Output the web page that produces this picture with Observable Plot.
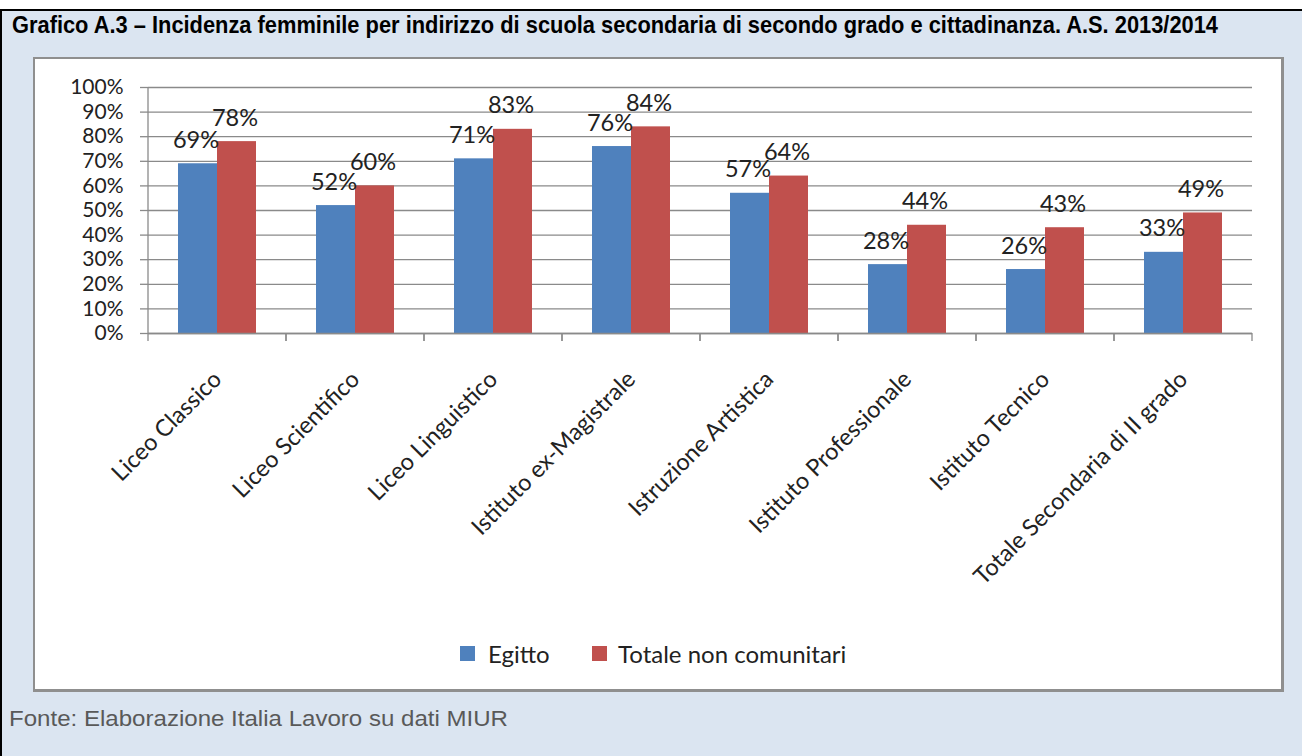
<!DOCTYPE html>
<html>
<head>
<meta charset="utf-8">
<script src="https://cdn.jsdelivr.net/npm/d3@7"></script>
<script src="https://cdn.jsdelivr.net/npm/@observablehq/plot@0.6"></script>
<style>
  html, body { margin: 0; padding: 0; background: #ffffff; }
  #page { position: relative; width: 1302px; height: 756px; overflow: hidden; background: #ffffff; }
  #panel { position: absolute; left: 0; top: 9px; width: 1302px; height: 747px; background: #dbe5f1;
           border-top: 2px solid #000; border-left: 2px solid #000; box-sizing: border-box; }
  #title { position: absolute; left: 12px; top: 11px; white-space: nowrap; transform-origin: 0 0;
           font-family: "Liberation Sans Narrow", "Liberation Sans", Arial, sans-serif; font-weight: bold;
           font-size: 24px; color: #000; }
  #caption { position: absolute; left: 9px; top: 706px; white-space: nowrap; transform-origin: 0 0;
           font-family: "Liberation Sans", Arial, sans-serif; font-size: 22px; color: #595959; }
  #chartbox { position: absolute; left: 33px; top: 57px; width: 1251px; height: 635px; background: #fff;
           border: 2px solid #8f8f8f; border-right-width: 3px; border-bottom-width: 3px; box-sizing: border-box; }
  #plot { position: absolute; left: 0; top: 0; }
  #legend { position: absolute; left: 0; top: 0; width: 100%; height: 100%; pointer-events: none;
           font-family: Lato, "Open Sans", sans-serif; font-size: 24px; color: #222; }
  .sw { position: absolute; width: 15px; height: 15px; }
  .lt { position: absolute; white-space: nowrap; line-height: 1; }
</style>
</head>
<body>
<div id="page">
  <div id="panel"></div>
  <div id="title">Grafico A.3 – Incidenza femminile per indirizzo di scuola secondaria di secondo grado e cittadinanza. A.S. 2013/2014</div>
  <div id="chartbox">
    <div id="plot"></div>
    <div id="legend"></div>
  </div>
  <div id="caption">Fonte: Elaborazione Italia Lavoro su dati MIUR</div>
</div>
<script>
// ---- Data ----
const categories = [
  "Liceo Classico",
  "Liceo Scientifico",
  "Liceo Linguistico",
  "Istituto ex-Magistrale",
  "Istruzione Artistica",
  "Istituto Professionale",
  "Istituto Tecnico",
  "Totale Secondaria di II grado"
];
const series = ["Egitto", "Totale non comunitari"];
const egitto = [69, 52, 71, 76, 57, 28, 26, 33];
const totaleNonComunitari = [78, 60, 83, 84, 64, 44, 43, 49];
const yTicks = [0, 10, 20, 30, 40, 50, 60, 70, 80, 90, 100];
const colors = ["#4f81bd", "#c0504d"];

// table built from the arrays
const rows = categories.flatMap((c, i) => [
  {category: c, series: series[0], value: egitto[i]},
  {category: c, series: series[1], value: totaleNonComunitari[i]}
]);

const gridColor = "#8a8a8a";
const textColor = "#222";
const chartFont = "Lato, 'Open Sans', sans-serif";

// decoration drawn in each facet: category boundary ticks, plus y-axis line in first facet
let facetCounter = 0;
const axisDecor = (index, scales, values, dims) => {
  const g = d3.create("svg:g").attr("stroke", gridColor).attr("stroke-width", 1.3);
  const x0 = dims.marginLeft, x1 = dims.width - dims.marginRight;
  const y0 = dims.height - dims.marginBottom;
  const tick = 8;
  g.append("line").attr("x1", x0).attr("x2", x0).attr("y1", y0).attr("y2", y0 + tick);
  g.append("line").attr("x1", x1).attr("x2", x1).attr("y1", y0).attr("y2", y0 + tick);
  if (facetCounter === 0) {
    g.append("line").attr("x1", x0).attr("x2", x0).attr("y1", dims.marginTop).attr("y2", y0);
  }
  facetCounter++;
  return g.node();
};

const W = 1246, H = 561;
const chart = Plot.plot({
  width: W,
  height: H,
  marginLeft: 112,
  marginRight: 28,
  marginTop: 28,
  marginBottom: 287,
  style: {fontFamily: chartFont, background: "transparent", color: textColor},
  fx: {domain: categories, paddingInner: 0, paddingOuter: 0, label: null},
  x: {domain: series, paddingInner: 0, paddingOuter: 0.73, axis: null},
  y: {domain: [0, 100], label: null},
  color: {domain: series, range: colors},
  marks: [
    Plot.gridY(yTicks, {stroke: gridColor, strokeOpacity: 1, strokeWidth: 1.3}),
    Plot.axisY(yTicks, {tickSize: 8, tickPadding: 17, tickFormat: d => d + "%", fontSize: 21,
                        stroke: gridColor, strokeWidth: 1.3, fill: textColor, label: null}),
    Plot.axisFx({anchor: "bottom", tickSize: 0, tickPadding: 42, tickRotate: -45, fontSize: 23.5,
                 fill: textColor, label: null}),
    Plot.barY(rows, {fx: "category", x: "series", y: "value", fill: "series"}),
    Plot.ruleY([0], {stroke: gridColor, strokeWidth: 1.3}),
    axisDecor,
    Plot.text(rows, {fx: "category", x: "series", y: "value", text: d => d.value + "%",
                     lineAnchor: "bottom", dy: -16, dx: -2, fontSize: 23.5, fill: textColor})
  ]
});
document.getElementById("plot").appendChild(chart);

// ---- Legend ----
const legend = document.getElementById("legend");
const legendItems = [
  {label: series[0], color: colors[0], sx: 425, tx: 453},
  {label: series[1], color: colors[1], sx: 557, tx: 583}
];
for (const it of legendItems) {
  const sw = document.createElement("div");
  sw.className = "sw";
  sw.style.left = it.sx + "px";
  sw.style.top = "587px";
  sw.style.background = it.color;
  legend.appendChild(sw);
  const t = document.createElement("div");
  t.className = "lt";
  t.style.left = it.tx + "px";
  t.style.top = "583px";
  t.textContent = it.label;
  legend.appendChild(t);
}

// fit title and caption to their widths in the reference
function fitWidth(id, target) {
  const el = document.getElementById(id);
  const w = el.getBoundingClientRect().width;
  el.style.transform = `scaleX(${target / w})`;
}
fitWidth("title", 1206);
fitWidth("caption", 499);
</script>
</body>
</html>
